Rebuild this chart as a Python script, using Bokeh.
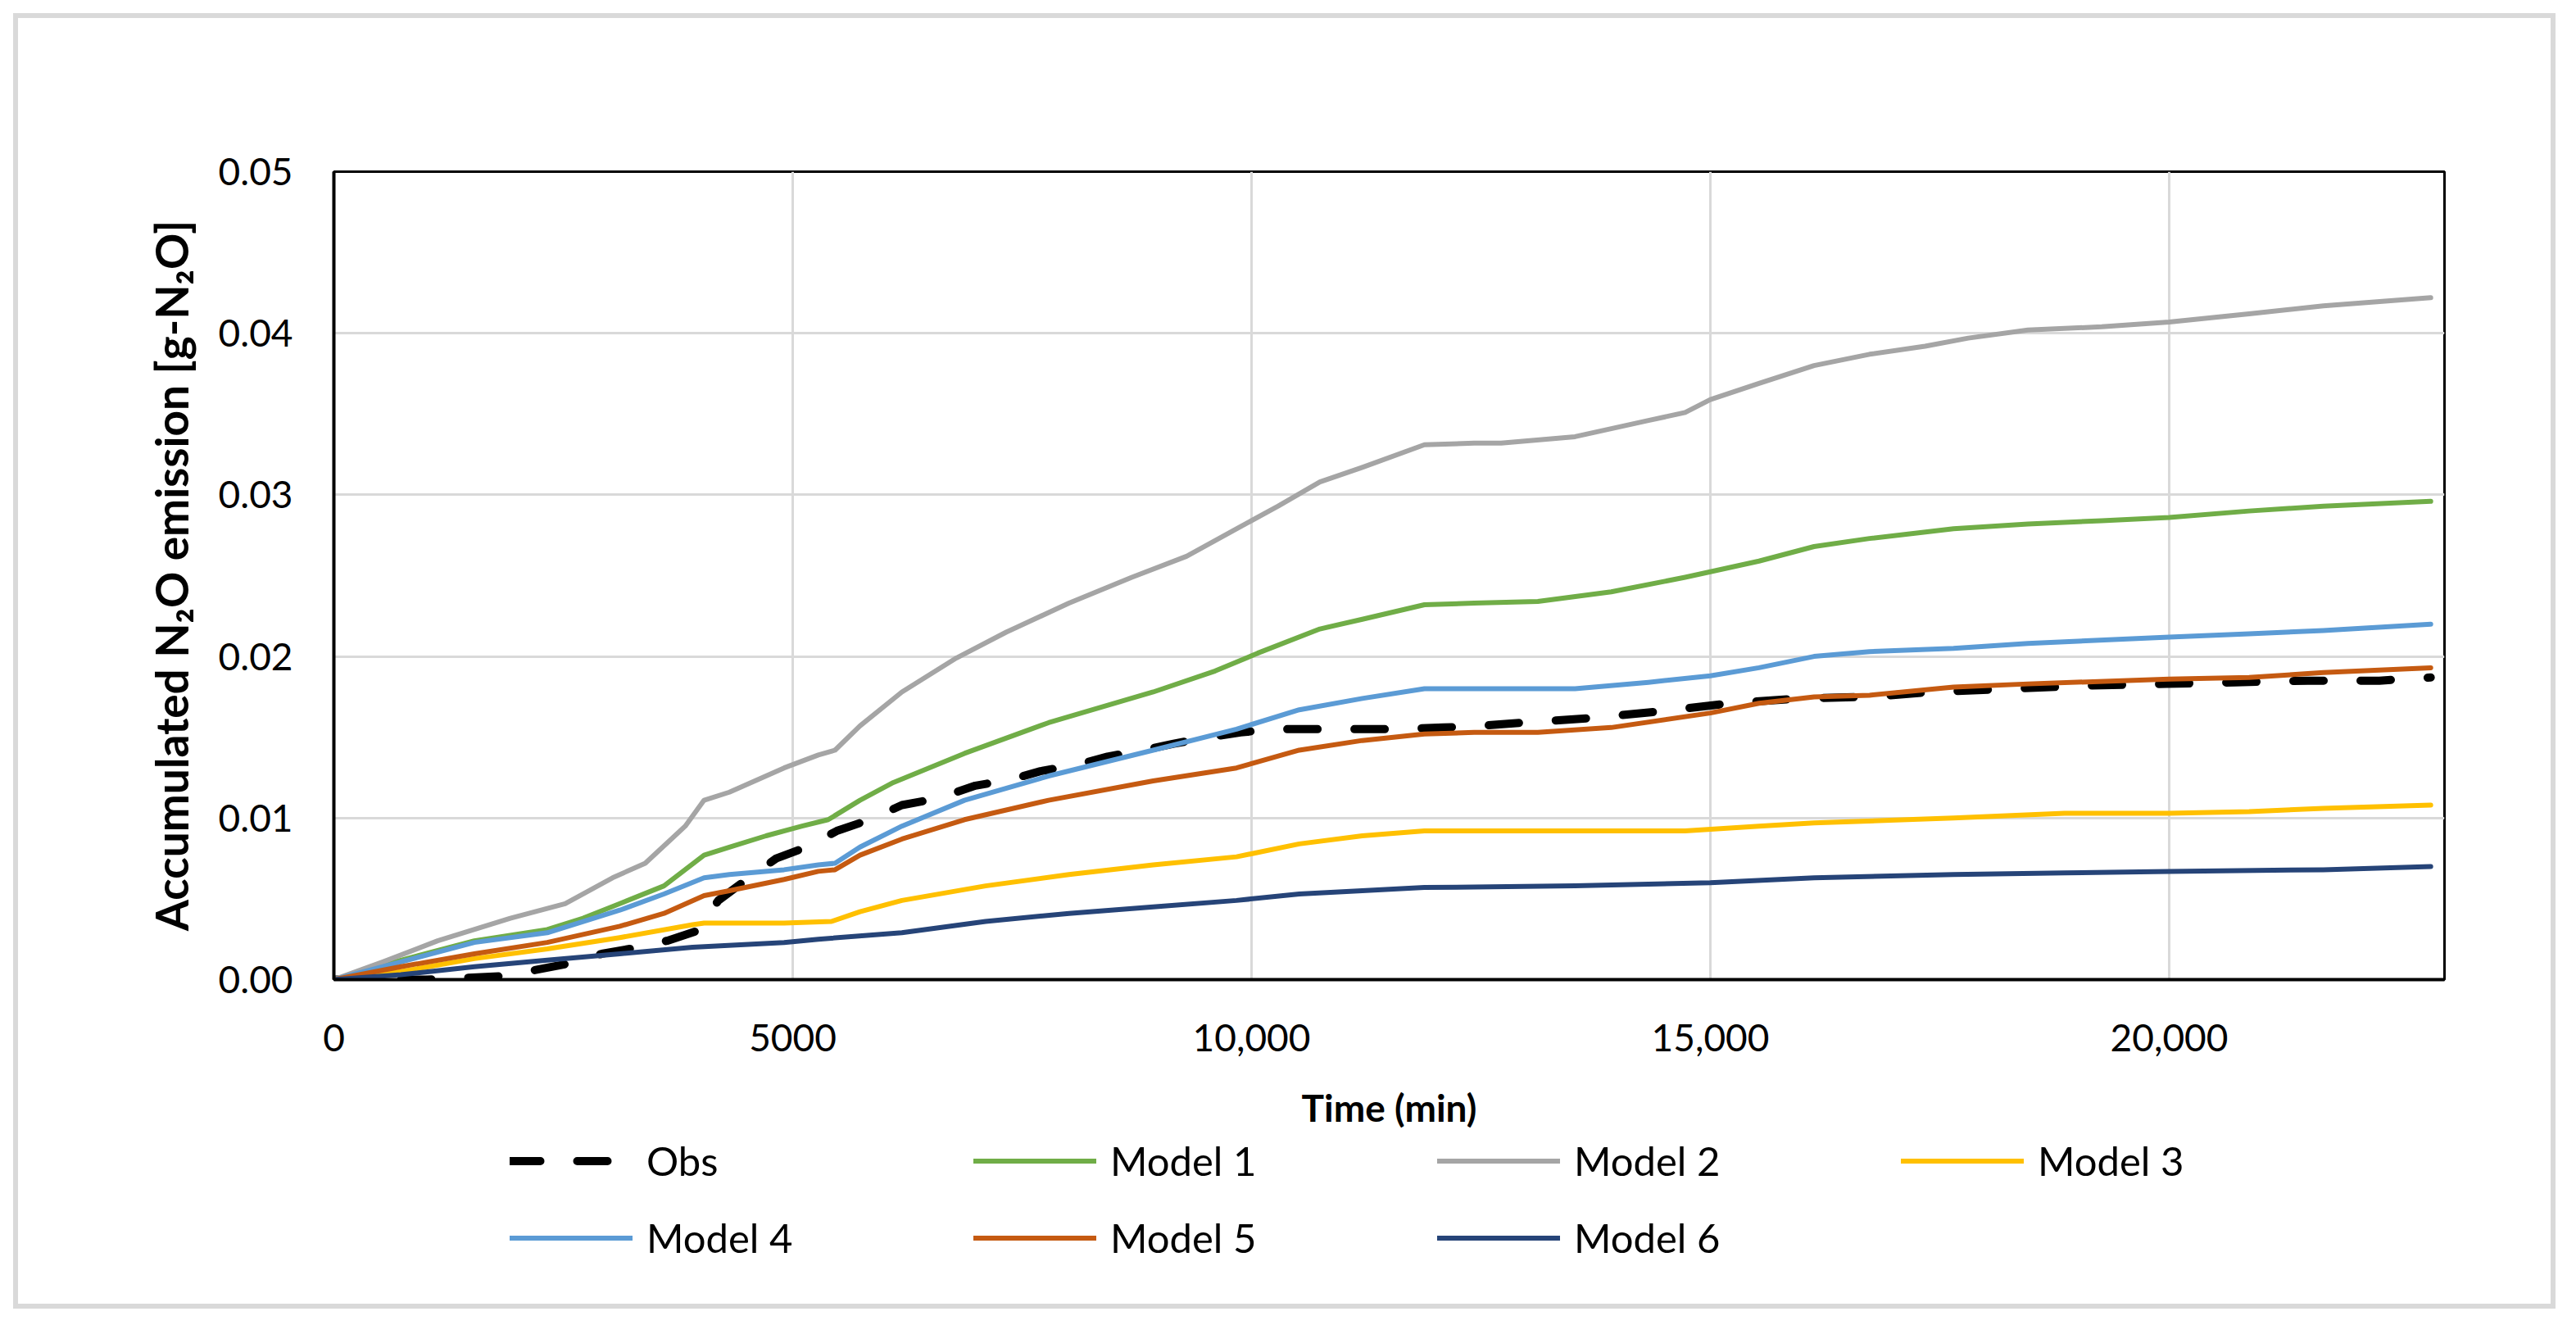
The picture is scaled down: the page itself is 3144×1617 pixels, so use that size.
from bokeh.plotting import figure
from bokeh.layouts import column, row
from bokeh.models import (FixedTicker, Range1d, Legend, LegendItem, NumeralTickFormatter, Div)
from bokeh.embed import file_html
from bokeh.resources import INLINE

# ---------------- data ----------------
x_ticks = [0, 5000, 10000, 15000, 20000]
x_tick_labels = ["0", "5000", "10,000", "15,000", "20,000"]
y_ticks = [0.0, 0.01, 0.02, 0.03, 0.04, 0.05]

obs_t = [0, 1000, 1800, 2200, 2560, 2920, 3320, 3630, 3950, 4190, 4500, 4820, 5150, 5480,
         5840, 6190, 6570, 6990, 7390, 7700, 8100, 8430, 8820, 9150, 9540, 9880, 10250,
         10620, 11030, 11560, 12090, 12480, 12940, 13730, 14450, 15210, 15975, 16740,
         17420, 18280, 19135, 19970, 20720, 21510, 22290, 22850]
obs_v = [0, 0, 0.0002, 0.0006, 0.0010, 0.0016, 0.0020, 0.0024, 0.0030, 0.0049, 0.0062,
         0.0075, 0.0082, 0.0092, 0.0099, 0.0108, 0.0112, 0.0120, 0.0124, 0.0129, 0.0133,
         0.0138, 0.0142, 0.0146, 0.0150, 0.0153, 0.0155, 0.0155, 0.0155, 0.0155, 0.0156,
         0.0157, 0.0159, 0.0162, 0.0166, 0.0171, 0.0174, 0.0175, 0.0178, 0.0180, 0.0182,
         0.0183, 0.0184, 0.0185, 0.0185, 0.0187]

m1_t = [0, 730, 1531, 2325, 2716, 3116, 3597, 4034, 4310, 4710, 5102, 5387, 5733, 6097,
        6872, 7788, 8928, 9604, 10066, 10745, 11207, 11884, 12426, 13120, 13920, 14725,
        15530, 16130, 16735, 17650, 18460, 19265, 20000, 20870, 21680, 22850]
m1_v = [0, 0.0012, 0.0024, 0.0031, 0.0038, 0.0047, 0.0058, 0.0077, 0.0082, 0.0089, 0.0095,
        0.0099, 0.0111, 0.0122, 0.0140, 0.0159, 0.0178, 0.0191, 0.0202, 0.0217, 0.0223,
        0.0232, 0.0233, 0.0234, 0.0240, 0.0249, 0.0259, 0.0268, 0.0273, 0.0279, 0.0282,
        0.0284, 0.0286, 0.0290, 0.0293, 0.0296]

m2_t = [0, 534, 1131, 1923, 2520, 3036, 3393, 3829, 4034, 4310, 4906, 5279, 5461, 5733,
        6190, 6783, 7326, 8011, 8696, 9292, 9836, 10290, 10745, 11207, 11884, 12426,
        12720, 13525, 14325, 14725, 15000, 15530, 16130, 16735, 17340, 17810, 18460,
        19265, 20000, 20870, 21680, 22850]
m2_v = [0, 0.0011, 0.0024, 0.0038, 0.0047, 0.0063, 0.0072, 0.0095, 0.0111, 0.0116, 0.0131,
        0.0139, 0.0142, 0.0157, 0.0178, 0.0199, 0.0215, 0.0233, 0.0249, 0.0262, 0.0279,
        0.0293, 0.0308, 0.0317, 0.0331, 0.0332, 0.0332, 0.0336, 0.0346, 0.0351, 0.0359,
        0.0369, 0.0380, 0.0387, 0.0392, 0.0397, 0.0402, 0.0404, 0.0407, 0.0412, 0.0417,
        0.0422]

m3_t = [0, 730, 1531, 2325, 3116, 3909, 4034, 4906, 5423, 5733, 6190, 7102, 8011, 8928,
        9836, 10520, 11207, 11884, 12426, 14725, 15530, 16130, 17650, 18860, 20000,
        20870, 21680, 22850]
m3_v = [0, 0.0005, 0.0013, 0.0019, 0.0026, 0.0034, 0.0035, 0.0035, 0.0036, 0.0042, 0.0049,
        0.0058, 0.0065, 0.0071, 0.0076, 0.0084, 0.0089, 0.0092, 0.0092, 0.0092, 0.0095,
        0.0097, 0.0100, 0.0103, 0.0103, 0.0104, 0.0106, 0.0108]

m4_t = [0, 730, 1531, 2325, 3116, 3597, 4034, 4310, 4906, 5279, 5461, 5733, 6190, 6872,
        7788, 8928, 9836, 10520, 11207, 11884, 12426, 13525, 14325, 15000, 15530, 16130,
        16735, 17650, 18460, 20000, 20870, 21680, 22850]
m4_v = [0, 0.0011, 0.0023, 0.0029, 0.0043, 0.0053, 0.0063, 0.0065, 0.0068, 0.0071, 0.0072,
        0.0082, 0.0095, 0.0111, 0.0126, 0.0142, 0.0155, 0.0167, 0.0174, 0.0180, 0.0180,
        0.0180, 0.0184, 0.0188, 0.0193, 0.0200, 0.0203, 0.0205, 0.0208, 0.0212, 0.0214,
        0.0216, 0.0220]

m5_t = [0, 730, 1531, 2325, 3116, 3597, 4034, 4310, 4906, 5279, 5461, 5733, 6190, 6872,
        7788, 8928, 9836, 10520, 11207, 11884, 12426, 13120, 13920, 15000, 15530, 16130,
        16735, 17650, 18460, 20000, 20870, 21680, 22850]
m5_v = [0, 0.0008, 0.0016, 0.0023, 0.0033, 0.0041, 0.0052, 0.0055, 0.0062, 0.0067, 0.0068,
        0.0077, 0.0087, 0.0099, 0.0111, 0.0123, 0.0131, 0.0142, 0.0148, 0.0152, 0.0153,
        0.0153, 0.0156, 0.0165, 0.0171, 0.0175, 0.0176, 0.0181, 0.0183, 0.0186, 0.0187,
        0.0190, 0.0193]

m6_t = [0, 730, 1531, 2325, 3116, 3909, 4906, 5279, 6190, 7102, 8011, 8928, 9836, 10520,
        11207, 11884, 13525, 15000, 16130, 17650, 18860, 20000, 21680, 22850]
m6_v = [0, 0.0003, 0.0008, 0.0012, 0.0016, 0.0020, 0.0023, 0.0025, 0.0029, 0.0036, 0.0041,
        0.0045, 0.0049, 0.0053, 0.0055, 0.0057, 0.0058, 0.0060, 0.0063, 0.0065, 0.0066,
        0.0067, 0.0068, 0.0070]

series_names = ["Obs", "Model 1", "Model 2", "Model 3", "Model 4", "Model 5", "Model 6"]
series_t = [obs_t, m1_t, m2_t, m3_t, m4_t, m5_t, m6_t]
series_v = [obs_v, m1_v, m2_v, m3_v, m4_v, m5_v, m6_v]
series_colors = ["#000000", "#70ad47", "#a5a5a5", "#ffc000", "#5b9bd5", "#c55a11", "#264478"]

FONT = "Lato"
FRAME_GREY = "#d9d9d9"
INNER_W, INNER_H = 3091, 1569
MAIN_H = 1359
LEG_H = INNER_H - MAIN_H


def add_series(fig):
    rs = []
    for name, t, v, c in zip(series_names, series_t, series_v, series_colors):
        if name == "Obs":
            r = fig.line(t, v, line_color=c, line_width=10, line_dash="37 45",
                         line_cap="round", line_join="round")
        else:
            r = fig.line(t, v, line_color=c, line_width=6, line_cap="round",
                         line_join="round")
        rs.append(r)
    return rs


# ---------------- main chart ----------------
p = figure(width=INNER_W, height=MAIN_H, output_backend="svg", toolbar_location=None,
           x_range=Range1d(0, 23000), y_range=Range1d(0, 0.05),
           min_border_left=385, min_border_top=187, min_border_right=130,
           min_border_bottom=186, margin=0)
p.background_fill_color = "white"
p.border_fill_color = "white"
p.outline_line_color = "black"
p.outline_line_width = 3
p.outline_line_alpha = 1.0

p.xaxis.ticker = FixedTicker(ticks=x_ticks)
p.xaxis.major_label_overrides = {t: l for t, l in zip(x_ticks, x_tick_labels)}
p.yaxis.ticker = FixedTicker(ticks=y_ticks)
p.yaxis.formatter = NumeralTickFormatter(format="0.00")
p.xgrid.ticker = FixedTicker(ticks=x_ticks)
p.ygrid.ticker = FixedTicker(ticks=y_ticks)
for g in (p.xgrid, p.ygrid):
    g.grid_line_color = FRAME_GREY
    g.grid_line_width = 3

for ax in (p.xaxis, p.yaxis):
    ax.axis_line_color = "black"
    ax.axis_line_width = 4
    ax.major_tick_line_color = None
    ax.minor_tick_line_color = None
    ax.major_tick_out = 0
    ax.major_tick_in = 0
    ax.minor_tick_out = 0
    ax.minor_tick_in = 0
    ax.major_label_text_font = FONT
    ax.major_label_text_font_size = "46px"
    ax.major_label_text_color = "black"
    ax.axis_label_text_font = FONT
    ax.axis_label_text_font_style = "bold"
    ax.axis_label_text_color = "black"

p.xaxis.axis_label = "Time (min)"
p.xaxis.axis_label_text_font_size = "46px"
p.xaxis.major_label_standoff = 54
p.xaxis.axis_label_standoff = 38

p.yaxis.axis_label = "Accumulated N\u2082O emission [g-N\u2082O]"
p.yaxis.axis_label_text_font_size = "55px"
p.yaxis.major_label_standoff = 50
p.yaxis.axis_label_standoff = 22

add_series(p)

# ---------------- legend strip (same series, legend only) ----------------
pl = figure(width=INNER_W, height=LEG_H, output_backend="svg", toolbar_location=None,
            x_range=Range1d(-2, -1), y_range=Range1d(0, 0.05),
            x_axis_type=None, y_axis_type=None, min_border=0, margin=0)
pl.min_border_left = pl.min_border_right = pl.min_border_top = pl.min_border_bottom = 0
pl.outline_line_color = None
pl.xgrid.visible = False
pl.ygrid.visible = False
pl.background_fill_color = "white"
pl.border_fill_color = "white"
leg_renderers = add_series(pl)

legend = Legend(items=[LegendItem(label=n, renderers=[r])
                       for n, r in zip(series_names, leg_renderers)],
                orientation="horizontal", ncols=4, location=(215, 52),
                glyph_width=150, glyph_height=55, label_width=363, label_height=55,
                label_standoff=17, spacing=36, padding=0, margin=0,
                border_line_color=None, background_fill_alpha=0,
                label_text_font=FONT, label_text_font_size="49px", label_text_color="black")
pl.add_layout(legend)

# ---------------- light grey chart-area border ----------------
def strip(w, h):
    return Div(text="", width=w, height=h, margin=0,
               styles={"background-color": FRAME_GREY})

inner = column(p, pl, spacing=0, margin=0)
middle = row(strip(6, INNER_H), inner, strip(6, INNER_H), spacing=0, margin=0)
page = column(strip(INNER_W + 12, 6), middle, strip(INNER_W + 12, 6),
              spacing=0, margin=(16, 0, 0, 16))

open("out.html", "w").write(file_html(page, INLINE))
